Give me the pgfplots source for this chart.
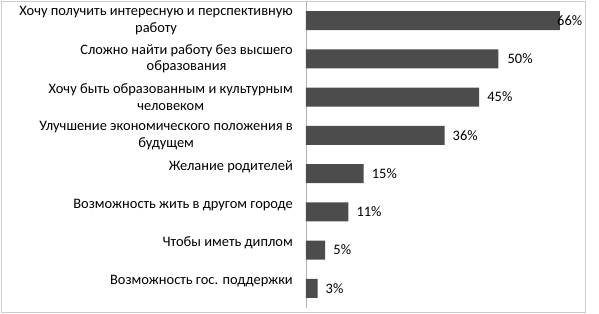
\documentclass[border=0pt]{standalone}
\usepackage{pgfplots}
\usepackage{pgfplotstable}
\pgfplotsset{compat=1.18}
\usepackage{fontspec}
\setmainfont{Carlito}
\pgfplotstableread{
y x s
0 66 -3
1 50 9
2 45 8
3 36 8
4 15 8
5 11 8
6 5 8
7 3 8
}\data
\begin{document}
\begin{tikzpicture}
\begin{axis}[
  anchor=south west,
  scale only axis,
  width=279bp, height=306bp,
  xmin=0, xmax=72.5,
  ymin=-0.5, ymax=7.5,
  y dir=reverse,
  axis x line=none,
  axis y line*=left,
  y axis line style={black!30, line width=0.8bp, -},
  ytick={0,...,7},
  major tick length=0pt,
  yticklabels={
    {Хочу получить интересную и перспективную\\работу},
    {Сложно найти работу без высшего\\образования},
    {Хочу быть образованным и культурным\\человеком},
    {Улучшение экономического положения в\\будущем},
    {Желание родителей\\\mbox{}},
    {Возможность жить в другом городе\\\mbox{}},
    {Чтобы иметь диплом\\\mbox{}},
    {Возможность гос. поддержки\\\mbox{}}
  },
  yticklabel style={align=center, inner sep=0pt, anchor=east, xshift=-13bp,
    font=\fontsize{14.5}{16.5}\selectfont, text=black},
  /pgf/number format/assume math mode=true,
  clip=false,
]
\addplot[xbar, bar width=19bp, bar shift=0pt, draw=none,
  fill=black!70,
  point meta=x,
  nodes near coords={\pgfmathprintnumber{\pgfplotspointmeta}\%},
  visualization depends on={\thisrow{s} \as \sh},
  every node near coord/.append style={anchor=west, inner sep=0pt,
    xshift={\sh*1bp}, font=\fontsize{14.5}{16.5}\selectfont, text=black},
] table[x=x, y=y] {\data};
\end{axis}
\draw[black!20, line width=0.8bp] (-305bp,-4.5bp) rectangle (279bp,306.5bp);
\path (-306bp,-6.5bp) rectangle (293bp,307.5bp);
\end{tikzpicture}
\end{document}
